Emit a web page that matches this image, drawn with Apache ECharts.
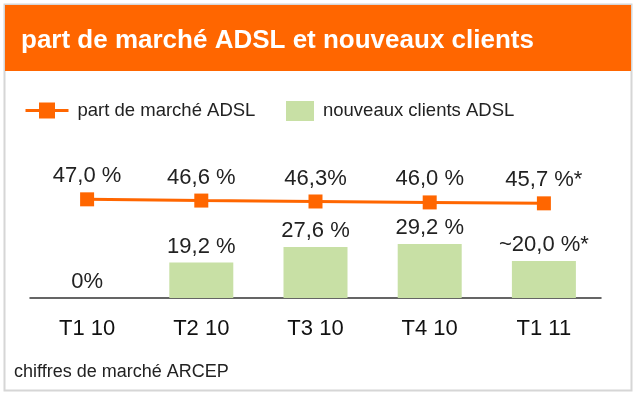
<!DOCTYPE html>
<html>
<head>
<meta charset="utf-8">
<script src="https://cdn.jsdelivr.net/npm/echarts@6/dist/echarts.min.js"></script>
<style>
  html, body { margin: 0; padding: 0; background: #fff; }
  #main { width: 637px; height: 396px; }
</style>
</head>
<body>
<div id="main"></div>
<script>
// données
const categories = ['T1 10', 'T2 10', 'T3 10', 'T4 10', 'T1 11'];
const partMarche = [47.0, 46.6, 46.3, 46.0, 45.7];
const partLabels = ['47,0 %', '46,6 %', '46,3%', '46,0 %', '45,7 %*'];
const nouveauxClients = [0, 19.2, 27.6, 29.2, 20.0];
const clientsLabels = ['0%', '19,2 %', '27,6 %', '29,2 %', '~20,0 %*'];

const FONT = '"Liberation Sans", Arial, Helvetica, sans-serif';
const ORANGE = '#ff6600';
const GREEN = '#c8e0a5';

let chart = echarts.init(document.getElementById('main'));

let option = {
    animation: false,
    textStyle: { fontFamily: FONT },
    graphic: [
        {
            type: 'rect', z: -10,
            shape: { x: 4.5, y: 4.5, width: 627, height: 386 },
            style: { fill: '#fff', stroke: '#d6d6d6', lineWidth: 2 }
        },
        {
            type: 'rect', z: -9,
            shape: { x: 5, y: 5, width: 626, height: 66 },
            style: { fill: ORANGE }
        },
        {
            type: 'text', x: 21, y: 41,
            style: {
                text: 'part de marché ADSL et nouveaux clients',
                fill: '#fff', font: 'bold 26px ' + FONT,
                verticalAlign: 'middle'
            }
        },
        {
            type: 'text', x: 14, y: 372,
            style: {
                text: 'chiffres de marché ARCEP',
                fill: '#222', font: '18px ' + FONT,
                verticalAlign: 'middle'
            }
        }
    ],
    legend: [
        {
            data: ['part de marché ADSL'],
            left: 24, top: 101, padding: 0,
            itemWidth: 43, itemHeight: 20,
            lineStyle: { width: 3 },
            textStyle: { fontSize: 18.5, color: '#222', padding: [0, 0, 0, 4] }
        },
        {
            data: ['nouveaux clients ADSL'],
            left: 286, top: 101, padding: 0,
            itemWidth: 28, itemHeight: 20,
            icon: 'rect',
            textStyle: { fontSize: 18.5, color: '#222', padding: [0, 0, 0, 4] }
        }
    ],
    grid: { left: 30, right: 36, top: 150, bottom: 98 },
    xAxis: {
        type: 'category',
        data: categories,
        axisLine: { lineStyle: { color: '#333', width: 1.5 } },
        axisTick: { show: false },
        axisLabel: { fontSize: 22, color: '#111', margin: 20 }
    },
    yAxis: [
        { type: 'value', min: 0, max: 80, show: false },
        { type: 'value', min: 15, max: 63, show: false }
    ],
    series: [
        {
            name: 'nouveaux clients ADSL',
            type: 'bar',
            data: nouveauxClients,
            barWidth: 64,
            itemStyle: { color: GREEN },
            label: {
                show: true, position: 'top', distance: 5,
                fontSize: 22, color: '#222',
                formatter: p => clientsLabels[p.dataIndex]
            }
        },
        {
            name: 'part de marché ADSL',
            type: 'line',
            yAxisIndex: 1,
            data: partMarche,
            symbol: 'rect', symbolSize: 14,
            lineStyle: { color: ORANGE, width: 3 },
            itemStyle: { color: ORANGE },
            label: {
                show: true, position: 'top', distance: 5,
                fontSize: 22, color: '#222',
                formatter: p => partLabels[p.dataIndex]
            }
        }
    ]
};

chart.setOption(option);
</script>
</body>
</html>
